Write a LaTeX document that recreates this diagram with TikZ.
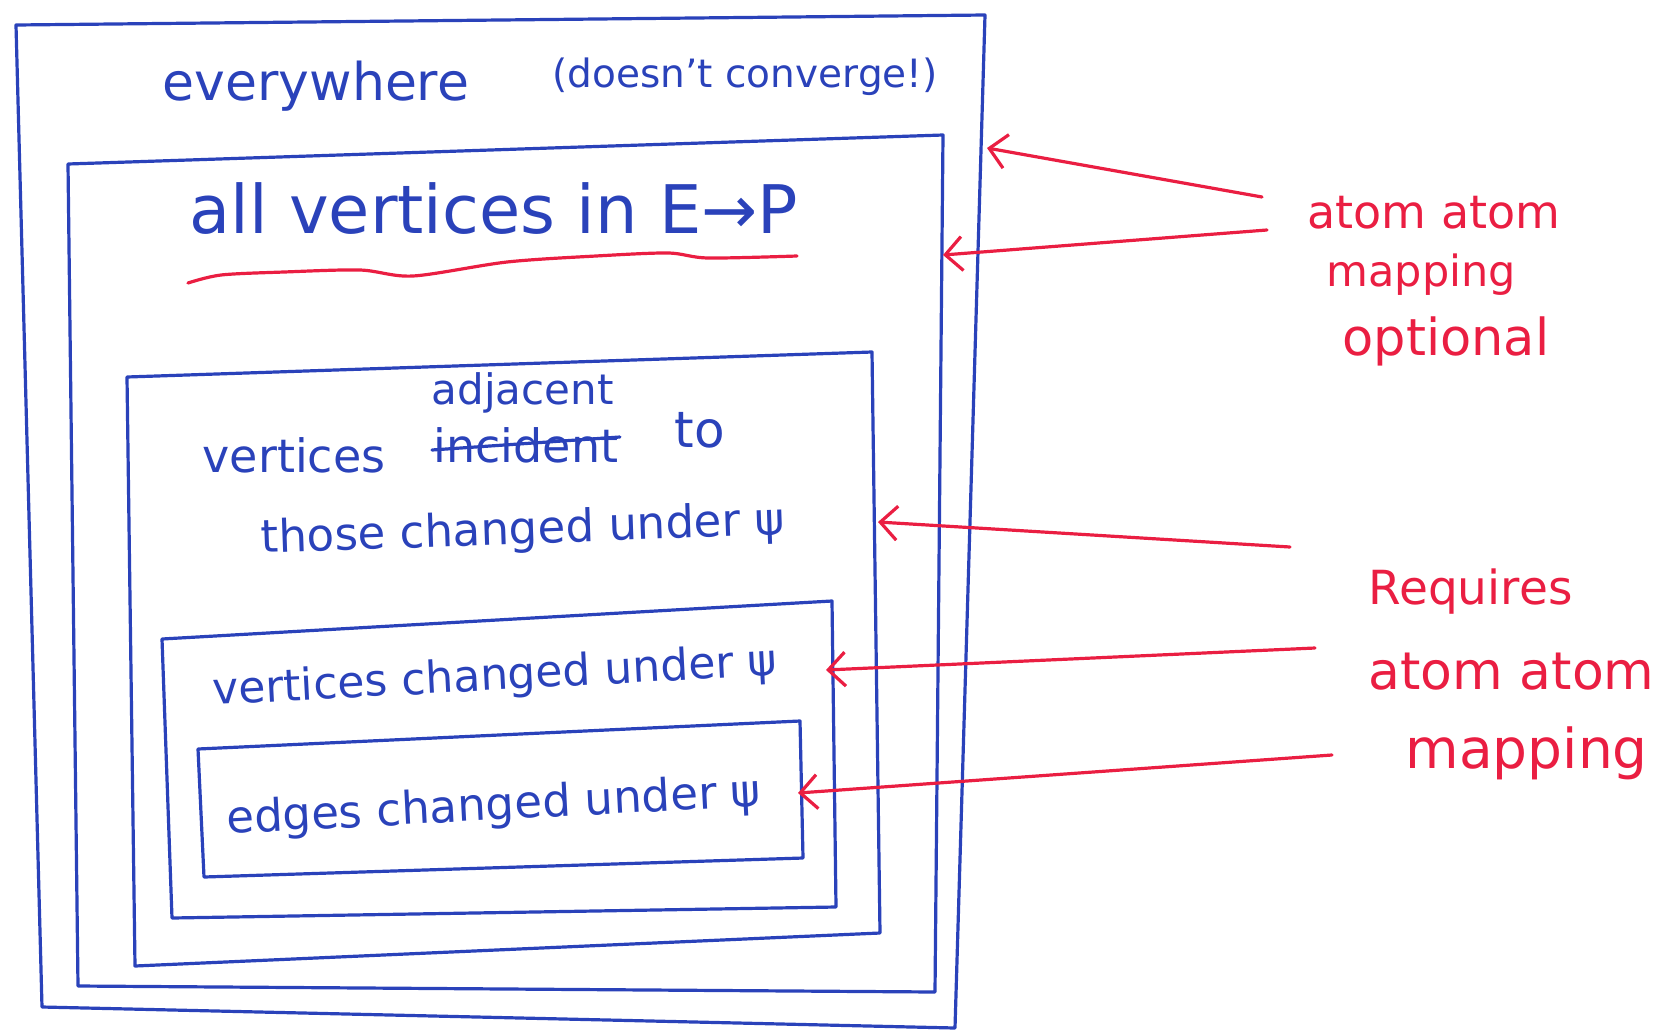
\documentclass[tikz,border=0pt]{standalone}
\usepackage{fontspec}
\setmainfont{DejaVu Sans}
\usetikzlibrary{arrows.meta}
\definecolor{bluepen}{RGB}{42,66,186}
\definecolor{redpen}{RGB}{234,30,66}

\begin{document}
\begin{tikzpicture}[x=1pt,y=-1pt, inner sep=0pt, line width=3.2pt, line cap=round, line join=round,
  >={Straight Barb[length=17pt,width=34pt]},
  txt/.style={anchor=base west, text=bluepen, font=\fontsize{#1}{#1}\selectfont},
  rtxt/.style={anchor=base west, text=redpen, font=\fontsize{#1}{#1}\selectfont},
  box/.style={draw=bluepen},
  arr/.style={->, draw=redpen}]
\useasboundingbox (0,0) rectangle (1662,1034);

% nested regions
\draw[box] (16,25) -- (985,15) -- (955,1028) -- (42,1007) -- cycle;
\draw[box] (68,164) -- (943,135) -- (935,992) -- (78,986) -- cycle;
\draw[box] (127,377) -- (872,352) -- (880,933) -- (135,966) -- cycle;
\draw[box] (162,639) -- (832,601) -- (836,907) -- (172,918) -- cycle;
\draw[box] (198,749) -- (800,721) -- (803,858) -- (204,877) -- cycle;

% labels inside
\node (evr) at (161,100) [txt=52] {everywhere};
\node (conv) at (551,87) [txt=39] {(doesn't converge!)};
\node (all) at (188,233) [txt=67] {all vertices in E→P};
\draw[redpen] plot[smooth] coordinates {(188,283) (221,275) (284,272) (360,270) (413,276) (507,262) (596,256) (668,253) (708,258) (797,256)};
\node (adj) at (430,404) [txt=42] {adjacent};
\node (inc) at (432,462) [txt=46] {incident};
\draw[draw=bluepen] ([yshift=12pt]inc.base west) -- ([yshift=25pt]inc.base east);
\node (to) at (673,447) [txt=50] {to};
\node (vert) at (201,472) [txt=46] {vertices};
\node (those) at (260,553) [txt=45, rotate=2] {those changed under ψ};
\node (vch) at (212,705) [txt=44, rotate=3] {vertices changed under ψ};
\node (ech) at (226,834) [txt=45, rotate=3] {edges changed under ψ};

% notes on the right
\node (o1) at (1306,228) [rtxt=46] {atom atom};
\node (o2) at (1325,286) [rtxt=43] {mapping};
\node (o3) at (1341,355) [rtxt=51] {optional};
\node (r1) at (1367,604) [rtxt=47] {Requires};
\node (r2) at (1367,689) [rtxt=52] {atom atom};
\node (r3) at (1404,768) [rtxt=55] {mapping};

\coordinate (s1) at (1262,197); \coordinate (t1) at (987,148);
\coordinate (s2) at (1267,230); \coordinate (t2) at (943,255);
\coordinate (s3) at (1290,547); \coordinate (t3) at (878,522);
\coordinate (s4) at (1315,648); \coordinate (t4) at (826,670);
\coordinate (s5) at (1332,755); \coordinate (t5) at (798,793);
\draw[arr] (s1) -- (t1);
\draw[arr] (s2) -- (t2);
\draw[arr] (s3) -- (t3);
\draw[arr] (s4) -- (t4);
\draw[arr] (s5) -- (t5);
\end{tikzpicture}
\end{document}
